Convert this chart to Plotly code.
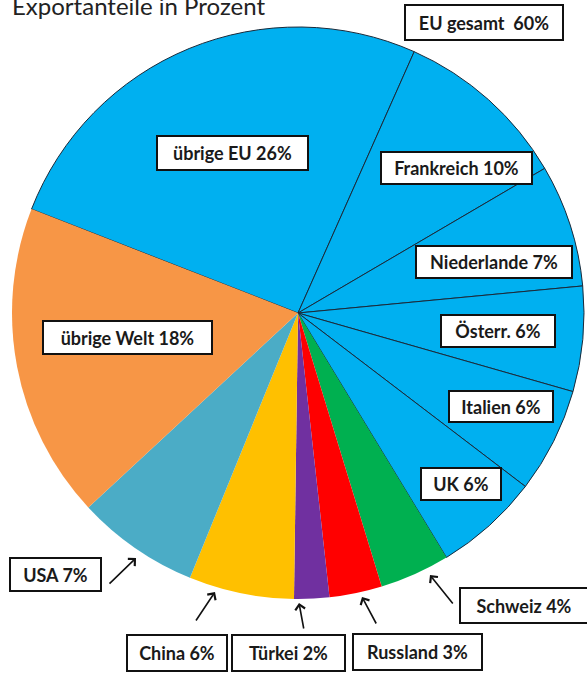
import plotly.graph_objects as go

W, H = 587, 675

labels = ["übrige EU", "Frankreich", "Niederlande", "Österr.", "Italien", "UK",
          "Schweiz", "Russland", "Türkei", "China", "USA", "übrige Welt"]
values = [26, 10, 7, 6, 6, 6, 4, 3, 2, 6, 7, 18]
colors = ["#00B0F0", "#00B0F0", "#00B0F0", "#00B0F0", "#00B0F0", "#00B0F0",
          "#00B050", "#FF0000", "#7030A0", "#FFC000", "#4BACC6", "#F79646"]
line_colors = ["#1a2a3a"] * 6 + ["rgba(0,0,0,0)"] * 6
line_widths = [1] * 6 + [0] * 6

box_texts = ["übrige EU 26%", "Frankreich 10%", "Niederlande 7%", "Österr. 6%",
             "Italien 6%", "UK 6%", "Schweiz 4%", "Russland 3%", "Türkei 2%",
             "China 6%", "USA 7%", "übrige Welt 18%"]
title_text = "Exportanteile in Prozent"
total_text = "EU gesamt  60%"

# pie geometry (pixels)
cx, cy, r = 298, 313, 286

fig = go.Figure(go.Pie(
    labels=labels, values=values, sort=False, direction="clockwise",
    rotation=291.3,
    marker=dict(colors=colors, line=dict(color=line_colors, width=line_widths)),
    textinfo="none", hoverinfo="label+percent", showlegend=False,
    domain=dict(x=[(cx - r) / W, (cx + r) / W], y=[1 - (cy + r) / H, 1 - (cy - r) / H]),
))


def px(x):
    return x / W


def py(y):
    return 1 - y / H


# box layout: center x, center y, width, height (pixels)
box_geom = {
    "übrige EU 26%": (233, 153, 153, 36),
    "Frankreich 10%": (456, 168, 153, 34),
    "Niederlande 7%": (494, 262, 158, 34),
    "Österr. 6%": (498, 331, 116, 34),
    "Italien 6%": (501, 406, 106, 33),
    "UK 6%": (461, 484, 82, 34),
    "Schweiz 4%": (524, 605, 130, 37),
    "Russland 3%": (417, 652, 131, 38),
    "Türkei 2%": (288, 653, 115, 38),
    "China 6%": (177, 653, 102, 38),
    "USA 7%": (55, 574, 93, 35),
    "übrige Welt 18%": (127, 337, 171, 35),
}

annotations = []
for t in box_texts + [total_text]:
    if t == total_text:
        bx, by, bw, bh = 484, 22, 160, 37
    else:
        bx, by, bw, bh = box_geom[t]
    annotations.append(dict(
        x=px(bx), y=py(by), xref="paper", yref="paper", xanchor="center", yanchor="middle",
        text="<b>%s</b>" % t, showarrow=False,
        font=dict(family="Lato", size=18, color="#1a1a1a"),
        bgcolor="white", bordercolor="#111111", borderwidth=2, borderpad=0,
        width=bw - 4, height=bh - 4, align="center",
    ))

# arrows: head (x, y), tail (x, y) in pixels
arrows = [
    ((136, 558), (108, 585)),
    ((215, 592), (195, 622)),
    ((299, 603), (304, 630)),
    ((362, 597), (377, 625)),
    ((430, 575), (454, 605)),
]
for (hx, hy), (tx, ty) in arrows:
    annotations.append(dict(
        x=px(hx), y=py(hy), xref="paper", yref="paper", text="",
        showarrow=True, arrowhead=4, arrowsize=1.2, arrowwidth=1.6, arrowcolor="#111111",
        axref="pixel", ayref="pixel", ax=tx - hx, ay=ty - hy, standoff=0,
    ))

annotations.append(dict(
    x=px(10), y=py(22), xref="paper", yref="paper", xanchor="left", yanchor="bottom",
    text=title_text, showarrow=False,
    font=dict(family="Lato", size=24, color="#222222"),
))

fig.update_layout(
    width=W, height=H, margin=dict(l=0, r=0, t=0, b=0),
    paper_bgcolor="white", plot_bgcolor="white",
    annotations=annotations,
)

fig.write_html("out.html", config={"displayModeBar": False},
               post_script="document.body.style.margin='0';")
